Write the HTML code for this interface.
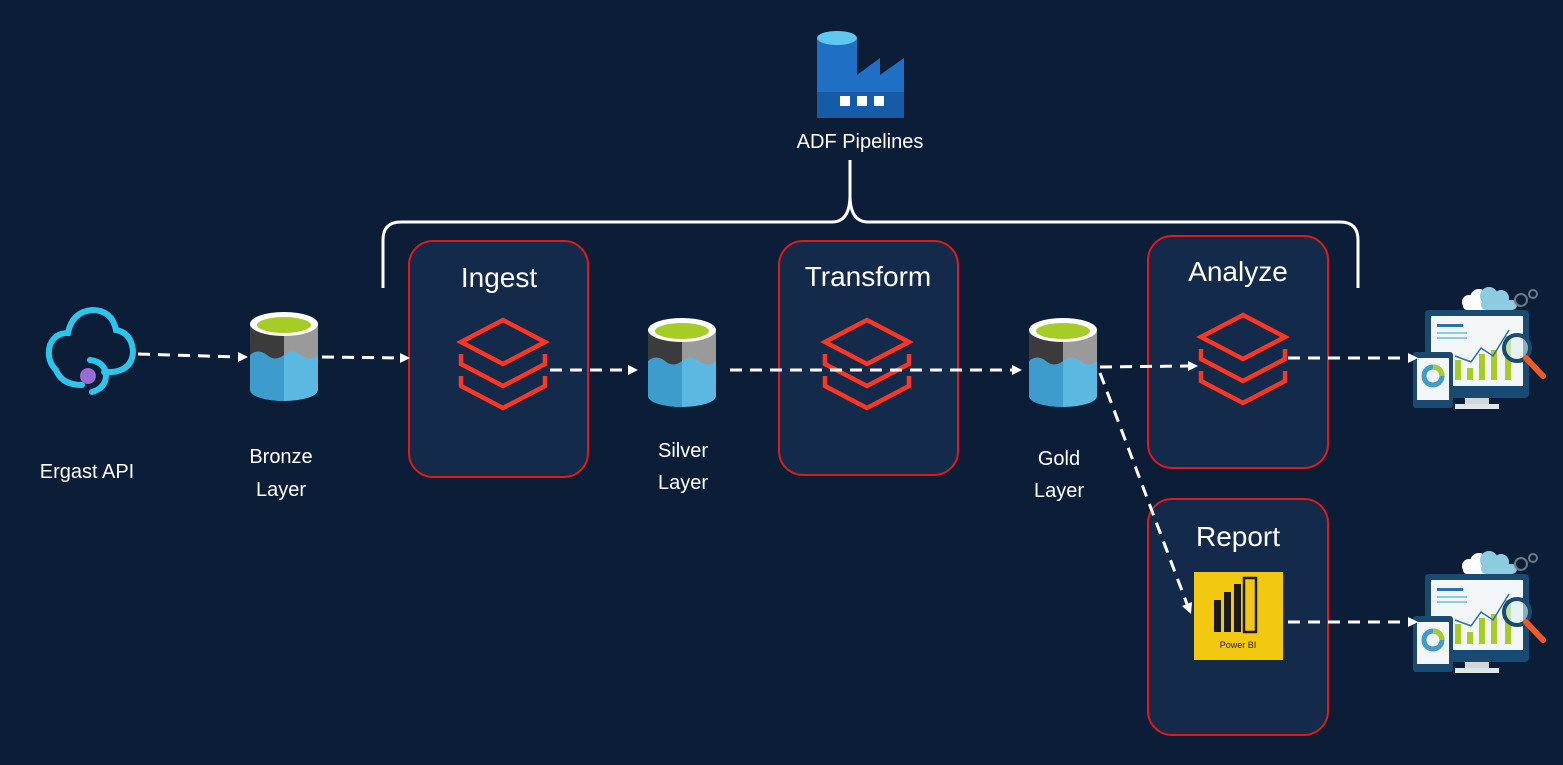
<!DOCTYPE html>
<html><head><meta charset="utf-8"><style>
html,body{margin:0;padding:0;background:#0c1e37;}
svg{display:block;font-family:"Liberation Sans",Arial,sans-serif;}
</style></head><body>
<svg width="1563" height="765" viewBox="0 0 1563 765">
<defs>
<g id="db" fill="none" stroke="#ff3621" stroke-width="4.5" stroke-linejoin="miter">
  <path d="M2,24 L44,2 L86,24 L44,46 Z"/>
  <path d="M2,36 L2,46 L44,68 L86,46 L86,36"/>
  <path d="M2,58 L2,68 L44,90 L86,68 L86,58"/>
</g>
<g id="cyl">
  <path d="M0,14 L0,80 A34,11 0 0 0 68,80 L68,14 Z" fill="#5bb8e0"/>
  <path d="M0,14 L0,80 A34,11 0 0 0 34,91 L34,14 Z" fill="#3d9ccc"/>
  <path d="M0,14 L0,45 Q8,38 17,45 Q25,52 34,45 L34,14 Z" fill="#3b3b3b"/>
  <path d="M34,14 L34,45 Q42,38 51,45 Q60,52 68,45 L68,14 Z" fill="#9a9a9a"/>
  <ellipse cx="34" cy="14" rx="34" ry="12" fill="#fff"/>
  <ellipse cx="34" cy="15" rx="27" ry="8" fill="#a6cc26"/>
</g>
<g id="dash">
  <rect x="0" y="0" width="104" height="88" rx="4" fill="#1a4a70"/>
  <rect x="6" y="6" width="92" height="70" fill="#f2f6f8"/>
  <rect x="40" y="88" width="24" height="8" fill="#cfd8dc"/>
  <rect x="30" y="94" width="44" height="5" fill="#e0e6e8"/>
  <rect x="12" y="14" width="26" height="3" fill="#2a6fb0"/>
  <rect x="12" y="22" width="30" height="2" fill="#8ccbe0"/>
  <rect x="12" y="27" width="30" height="2" fill="#8ccbe0"/>
  <rect x="30" y="50" width="6" height="20" fill="#a6cc26"/>
  <rect x="42" y="58" width="6" height="12" fill="#a6cc26"/>
  <rect x="54" y="44" width="6" height="26" fill="#a6cc26"/>
  <rect x="66" y="40" width="6" height="30" fill="#a6cc26"/>
  <rect x="80" y="26" width="6" height="44" fill="#a6cc26"/>
  <polyline points="30,46 46,52 56,38 68,46 84,20" fill="none" stroke="#2a6fb0" stroke-width="1.5"/>
  <circle cx="92" cy="38" r="13" fill="rgba(220,240,245,0.6)" stroke="#1a4a70" stroke-width="4"/>
  <line x1="101" y1="48" x2="118" y2="66" stroke="#f05a28" stroke-width="6" stroke-linecap="round"/>
  <rect x="-12" y="42" width="40" height="56" rx="3" fill="#1a4a70"/>
  <rect x="-8" y="48" width="32" height="42" fill="#f2f6f8"/>
  <circle cx="8" cy="66" r="9" fill="none" stroke="#3d9ccc" stroke-width="5"/>
  <path d="M8,57 A9,9 0 0 1 17,66" fill="none" stroke="#a6cc26" stroke-width="5"/>
  <g fill="#fff">
    <circle cx="44" cy="-8" r="7"/><circle cx="54" cy="-12" r="9"/><rect x="38" y="-8" width="30" height="8" rx="4"/>
  </g>
  <g fill="#8ccbe0">
    <circle cx="64" cy="-14" r="9"/><circle cx="76" cy="-12" r="8"/><rect x="56" y="-10" width="36" height="10" rx="5"/>
  </g>
  <circle cx="96" cy="-10" r="6" fill="none" stroke="#6b7a8a" stroke-width="2"/>
  <circle cx="108" cy="-16" r="4" fill="none" stroke="#6b7a8a" stroke-width="2"/>
</g>
</defs>

<g fill="#132a4a" stroke="#e01a1a" stroke-width="2">
<rect x="409" y="241" width="179" height="236" rx="24"/>
<rect x="779" y="241" width="179" height="234" rx="24"/>
<rect x="1148" y="236" width="180" height="232" rx="24"/>
<rect x="1148" y="499" width="180" height="236" rx="24"/>
</g>
<g fill="#fff" font-size="28" text-anchor="middle">
<text x="499" y="287">Ingest</text>
<text x="868" y="286">Transform</text>
<text x="1238" y="281">Analyze</text>
<text x="1238" y="546">Report</text>
</g>

<path d="M383,288 L383,240 Q383,222 401,222 L832,222 Q850,222 850,195 L850,160 L850,195 Q850,222 868,222 L1340,222 Q1358,222 1358,240 L1358,288" fill="none" stroke="#fff" stroke-width="3"/>

<g>
<rect x="817" y="38" width="40" height="80" fill="#1f6fc4"/>
<path d="M857,118 L857,75 L880,58 L880,75 L904,58 L904,118 Z" fill="#1f6fc4"/>
<ellipse cx="837" cy="38" rx="20" ry="7" fill="#5ec8f0"/>
<rect x="817" y="92" width="87" height="26" fill="#155ba8"/>
<rect x="840" y="96" width="10" height="10" fill="#fff"/>
<rect x="857" y="96" width="10" height="10" fill="#fff"/>
<rect x="874" y="96" width="10" height="10" fill="#fff"/>
</g>
<text x="860" y="148" fill="#fff" font-size="20" text-anchor="middle">ADF Pipelines</text>

<g fill="none" stroke="#2ec5ec" stroke-width="6" stroke-linecap="round">
<path d="M82,385 Q62,385 56,370 Q46,360 50,345 Q55,333 68,333 Q72,312 92,310 Q112,310 116,330 Q132,333 133,352 Q132,370 112,372 L104,372"/>
<path d="M90,360 Q105,362 106,375 Q106,388 92,392"/>
</g>
<circle cx="88" cy="376" r="8" fill="#9a6ad6"/>
<text x="87" y="478" fill="#fff" font-size="20" text-anchor="middle">Ergast API</text>

<use href="#cyl" x="250" y="310"/>
<use href="#cyl" x="648" y="316"/>
<use href="#cyl" x="1029" y="316"/>
<g fill="#fff" font-size="20" text-anchor="middle">
<text x="281" y="463">Bronze</text><text x="281" y="496">Layer</text>
<text x="683" y="457">Silver</text><text x="683" y="489">Layer</text>
<text x="1059" y="465">Gold</text><text x="1059" y="497">Layer</text>
</g>

<use href="#db" x="459" y="318"/>
<use href="#db" x="823" y="318"/>
<use href="#db" x="1199" y="313"/>

<rect x="1194" y="572" width="89" height="88" fill="#f2c811"/>
<g fill="#1a1a1a">
<rect x="1214" y="600" width="7" height="32"/>
<rect x="1224" y="592" width="7" height="40"/>
<rect x="1234" y="584" width="7" height="48"/>
<rect x="1244" y="578" width="12" height="54" fill="none" stroke="#1a1a1a" stroke-width="2.5"/>
</g>
<text x="1238" y="648" font-size="9" text-anchor="middle" fill="#222">Power BI</text>

<use href="#dash" x="1425" y="310"/>
<use href="#dash" x="1425" y="574"/>

<g stroke="#fff" stroke-width="3" stroke-dasharray="12 8" fill="none">
<line x1="138" y1="354" x2="238" y2="357"/>
<line x1="322" y1="357" x2="400" y2="358"/>
<line x1="550" y1="370" x2="628" y2="370"/>
<line x1="730" y1="370" x2="1012" y2="370"/>
<line x1="1100" y1="367" x2="1188" y2="366"/>
<line x1="1100" y1="373" x2="1187" y2="604"/>
<line x1="1288" y1="358" x2="1408" y2="358"/>
<line x1="1288" y1="622" x2="1408" y2="622"/>
</g>
<g fill="#fff">
<path d="M248,357 l-10,-5 v10z"/>
<path d="M410,358 l-10,-5 v10z"/>
<path d="M638,370 l-10,-5 v10z"/>
<path d="M1022,370 l-10,-5 v10z"/>
<path d="M1198,366 l-10,-5 v10z"/>
<path d="M1191,614 l-9,-8 l10,-4z"/>
<path d="M1418,358 l-10,-5 v10z"/>
<path d="M1418,622 l-10,-5 v10z"/>
</g>
</svg>
</body></html>
